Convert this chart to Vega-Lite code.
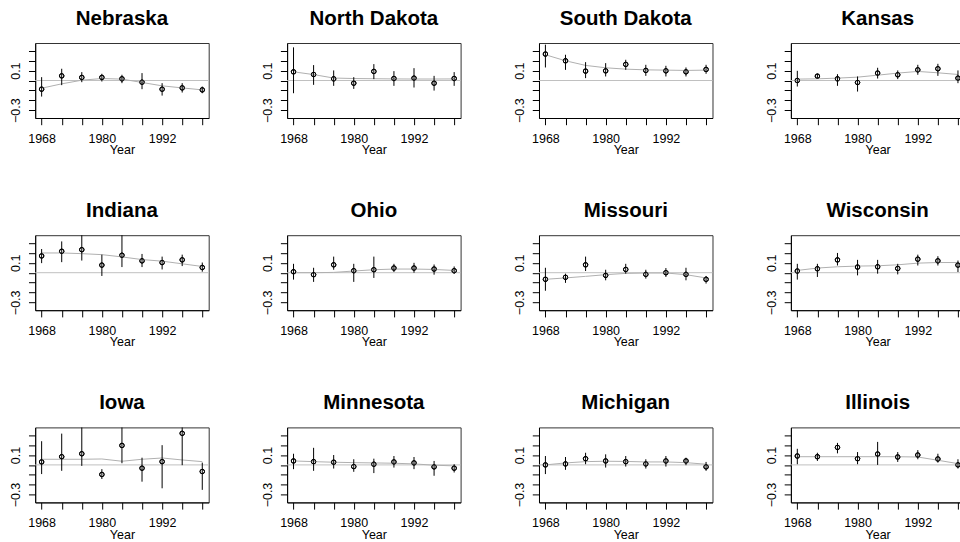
{
  "$schema": "https://vega.github.io/schema/vega-lite/v6.json",
  "padding": {"left": 8.2, "top": 8, "right": 0, "bottom": 0},
  "background": "white",
  "bounds": "flush",
  "spacing": {"row": 117.2, "column": 77.9},
  "config": {
    "font": "Liberation Sans",
    "view": {"stroke": "#333", "strokeWidth": 1},
    "header": {"labelFontSize": 20.5, "labelFontWeight": "bold", "labelFont": "Liberation Sans", "labelColor": "black", "labelPadding": -2.3, "labelBaseline": "alphabetic"},
    "axis": {"grid": false, "labelFont": "Liberation Sans", "titleFont": "Liberation Sans", "labelColor": "black", "titleColor": "black", "tickColor": "black", "domainColor": "black", "labelFontSize": 12.5, "titleFontSize": 12.5, "titleFontWeight": "normal", "labelOverlap": false, "labelFlush": false}
  },
  "data": {"values": [
    {"s":"Nebraska","y":1968,"e":-0.088,"lo":-0.163,"hi":0.034,"sm":-0.078},
    {"s":"Nebraska","y":1972,"e":0.047,"lo":-0.047,"hi":0.119,"sm":-0.034},
    {"s":"Nebraska","y":1976,"e":0.031,"lo":-0.017,"hi":0.085,"sm":0.003},
    {"s":"Nebraska","y":1980,"e":0.031,"lo":-0.01,"hi":0.068,"sm":0.02},
    {"s":"Nebraska","y":1984,"e":0.017,"lo":-0.027,"hi":0.058,"sm":0.014},
    {"s":"Nebraska","y":1988,"e":-0.017,"lo":-0.088,"hi":0.075,"sm":-0.02},
    {"s":"Nebraska","y":1992,"e":-0.088,"lo":-0.153,"hi":-0.027,"sm":-0.054},
    {"s":"Nebraska","y":1996,"e":-0.075,"lo":-0.122,"hi":-0.027,"sm":-0.075},
    {"s":"Nebraska","y":2000,"e":-0.095,"lo":-0.129,"hi":-0.061,"sm":-0.095},
    {"s":"North Dakota","y":1968,"e":0.088,"lo":-0.129,"hi":0.336,"sm":0.088},
    {"s":"North Dakota","y":1972,"e":0.061,"lo":-0.044,"hi":0.156,"sm":0.06},
    {"s":"North Dakota","y":1976,"e":0.017,"lo":-0.054,"hi":0.102,"sm":0.025},
    {"s":"North Dakota","y":1980,"e":-0.027,"lo":-0.085,"hi":0.034,"sm":0.02},
    {"s":"North Dakota","y":1984,"e":0.092,"lo":0.014,"hi":0.166,"sm":0.018},
    {"s":"North Dakota","y":1988,"e":0.02,"lo":-0.054,"hi":0.095,"sm":0.016},
    {"s":"North Dakota","y":1992,"e":0.024,"lo":-0.071,"hi":0.125,"sm":0.015},
    {"s":"North Dakota","y":1996,"e":-0.027,"lo":-0.102,"hi":0.047,"sm":0.015},
    {"s":"North Dakota","y":2000,"e":0.02,"lo":-0.054,"hi":0.085,"sm":0.016},
    {"s":"South Dakota","y":1968,"e":0.268,"lo":0.132,"hi":0.363,"sm":0.261},
    {"s":"South Dakota","y":1972,"e":0.2,"lo":0.108,"hi":0.261,"sm":0.2},
    {"s":"South Dakota","y":1976,"e":0.095,"lo":0.024,"hi":0.186,"sm":0.153},
    {"s":"South Dakota","y":1980,"e":0.098,"lo":0.041,"hi":0.176,"sm":0.129},
    {"s":"South Dakota","y":1984,"e":0.163,"lo":0.108,"hi":0.21,"sm":0.115},
    {"s":"South Dakota","y":1988,"e":0.102,"lo":0.047,"hi":0.159,"sm":0.108},
    {"s":"South Dakota","y":1992,"e":0.098,"lo":0.041,"hi":0.149,"sm":0.105},
    {"s":"South Dakota","y":1996,"e":0.088,"lo":0.041,"hi":0.132,"sm":0.102},
    {"s":"South Dakota","y":2000,"e":0.112,"lo":0.068,"hi":0.159,"sm":0.105},
    {"s":"Kansas","y":1968,"e":0.0,"lo":-0.061,"hi":0.098,"sm":0.014},
    {"s":"Kansas","y":1972,"e":0.044,"lo":0.024,"hi":0.068,"sm":0.017},
    {"s":"Kansas","y":1976,"e":0.017,"lo":-0.054,"hi":0.064,"sm":0.024},
    {"s":"Kansas","y":1980,"e":-0.02,"lo":-0.112,"hi":0.041,"sm":0.034},
    {"s":"Kansas","y":1984,"e":0.075,"lo":0.02,"hi":0.129,"sm":0.054},
    {"s":"Kansas","y":1988,"e":0.058,"lo":0.014,"hi":0.102,"sm":0.075},
    {"s":"Kansas","y":1992,"e":0.108,"lo":0.058,"hi":0.159,"sm":0.092},
    {"s":"Kansas","y":1996,"e":0.119,"lo":0.047,"hi":0.169,"sm":0.078},
    {"s":"Kansas","y":2000,"e":0.024,"lo":-0.027,"hi":0.102,"sm":0.061},
    {"s":"Indiana","y":1968,"e":0.17,"lo":0.097,"hi":0.24,"sm":0.2},
    {"s":"Indiana","y":1972,"e":0.217,"lo":0.107,"hi":0.317,"sm":0.2},
    {"s":"Indiana","y":1976,"e":0.233,"lo":0.123,"hi":0.39,"sm":0.193},
    {"s":"Indiana","y":1980,"e":0.077,"lo":-0.033,"hi":0.183,"sm":0.183},
    {"s":"Indiana","y":1984,"e":0.177,"lo":0.057,"hi":0.42,"sm":0.16},
    {"s":"Indiana","y":1988,"e":0.12,"lo":0.057,"hi":0.19,"sm":0.133},
    {"s":"Indiana","y":1992,"e":0.103,"lo":0.033,"hi":0.163,"sm":0.117},
    {"s":"Indiana","y":1996,"e":0.13,"lo":0.067,"hi":0.183,"sm":0.09},
    {"s":"Indiana","y":2000,"e":0.053,"lo":0.01,"hi":0.103,"sm":0.063},
    {"s":"Ohio","y":1968,"e":0.01,"lo":-0.07,"hi":0.09,"sm":0.0},
    {"s":"Ohio","y":1972,"e":-0.02,"lo":-0.093,"hi":0.05,"sm":0.0},
    {"s":"Ohio","y":1976,"e":0.08,"lo":0.03,"hi":0.163,"sm":0.003},
    {"s":"Ohio","y":1980,"e":0.02,"lo":-0.093,"hi":0.09,"sm":0.017},
    {"s":"Ohio","y":1984,"e":0.03,"lo":-0.053,"hi":0.163,"sm":0.03},
    {"s":"Ohio","y":1988,"e":0.047,"lo":0.007,"hi":0.09,"sm":0.037},
    {"s":"Ohio","y":1992,"e":0.047,"lo":0.0,"hi":0.1,"sm":0.037},
    {"s":"Ohio","y":1996,"e":0.037,"lo":-0.02,"hi":0.083,"sm":0.033},
    {"s":"Ohio","y":2000,"e":0.02,"lo":-0.01,"hi":0.063,"sm":0.023},
    {"s":"Missouri","y":1968,"e":-0.067,"lo":-0.183,"hi":0.05,"sm":-0.067},
    {"s":"Missouri","y":1972,"e":-0.047,"lo":-0.103,"hi":-0.01,"sm":-0.053},
    {"s":"Missouri","y":1976,"e":0.08,"lo":0.017,"hi":0.163,"sm":-0.037},
    {"s":"Missouri","y":1980,"e":-0.027,"lo":-0.077,"hi":0.03,"sm":-0.02},
    {"s":"Missouri","y":1984,"e":0.033,"lo":-0.01,"hi":0.09,"sm":-0.007},
    {"s":"Missouri","y":1988,"e":-0.017,"lo":-0.06,"hi":0.03,"sm":-0.003},
    {"s":"Missouri","y":1992,"e":0.0,"lo":-0.043,"hi":0.047,"sm":-0.003},
    {"s":"Missouri","y":1996,"e":-0.017,"lo":-0.077,"hi":0.05,"sm":-0.02},
    {"s":"Missouri","y":2000,"e":-0.067,"lo":-0.11,"hi":-0.033,"sm":-0.053},
    {"s":"Wisconsin","y":1968,"e":0.017,"lo":-0.07,"hi":0.09,"sm":0.023},
    {"s":"Wisconsin","y":1972,"e":0.04,"lo":-0.043,"hi":0.09,"sm":0.047},
    {"s":"Wisconsin","y":1976,"e":0.13,"lo":0.073,"hi":0.2,"sm":0.06},
    {"s":"Wisconsin","y":1980,"e":0.057,"lo":-0.027,"hi":0.13,"sm":0.067},
    {"s":"Wisconsin","y":1984,"e":0.06,"lo":-0.01,"hi":0.13,"sm":0.07},
    {"s":"Wisconsin","y":1988,"e":0.043,"lo":-0.017,"hi":0.09,"sm":0.08},
    {"s":"Wisconsin","y":1992,"e":0.137,"lo":0.073,"hi":0.183,"sm":0.097},
    {"s":"Wisconsin","y":1996,"e":0.12,"lo":0.073,"hi":0.167,"sm":0.103},
    {"s":"Wisconsin","y":2000,"e":0.077,"lo":0.007,"hi":0.123,"sm":0.103},
    {"s":"Iowa","y":1968,"e":0.03,"lo":-0.093,"hi":0.24,"sm":0.057},
    {"s":"Iowa","y":1972,"e":0.083,"lo":-0.06,"hi":0.317,"sm":0.057},
    {"s":"Iowa","y":1976,"e":0.113,"lo":-0.01,"hi":0.45,"sm":0.057},
    {"s":"Iowa","y":1980,"e":-0.097,"lo":-0.143,"hi":-0.043,"sm":0.06},
    {"s":"Iowa","y":1984,"e":0.197,"lo":0.017,"hi":0.42,"sm":0.037},
    {"s":"Iowa","y":1988,"e":-0.033,"lo":-0.17,"hi":0.073,"sm":0.057},
    {"s":"Iowa","y":1992,"e":0.033,"lo":-0.237,"hi":0.2,"sm":0.07},
    {"s":"Iowa","y":1996,"e":0.32,"lo":-0.003,"hi":0.5,"sm":0.05},
    {"s":"Iowa","y":2000,"e":-0.067,"lo":-0.253,"hi":0.023,"sm":0.033},
    {"s":"Minnesota","y":1968,"e":0.04,"lo":-0.043,"hi":0.113,"sm":0.04},
    {"s":"Minnesota","y":1972,"e":0.033,"lo":-0.06,"hi":0.173,"sm":0.033},
    {"s":"Minnesota","y":1976,"e":0.027,"lo":-0.037,"hi":0.1,"sm":0.027},
    {"s":"Minnesota","y":1980,"e":-0.017,"lo":-0.07,"hi":0.057,"sm":0.023},
    {"s":"Minnesota","y":1984,"e":0.007,"lo":-0.083,"hi":0.063,"sm":0.02},
    {"s":"Minnesota","y":1988,"e":0.03,"lo":-0.027,"hi":0.09,"sm":0.017},
    {"s":"Minnesota","y":1992,"e":0.02,"lo":-0.043,"hi":0.08,"sm":0.01},
    {"s":"Minnesota","y":1996,"e":-0.02,"lo":-0.11,"hi":0.04,"sm":-0.003},
    {"s":"Minnesota","y":2000,"e":-0.033,"lo":-0.077,"hi":0.007,"sm":-0.01},
    {"s":"Michigan","y":1968,"e":0.0,"lo":-0.093,"hi":0.09,"sm":0.0},
    {"s":"Michigan","y":1972,"e":0.01,"lo":-0.05,"hi":0.08,"sm":0.02},
    {"s":"Michigan","y":1976,"e":0.063,"lo":0.007,"hi":0.123,"sm":0.033},
    {"s":"Michigan","y":1980,"e":0.04,"lo":-0.027,"hi":0.107,"sm":0.037},
    {"s":"Michigan","y":1984,"e":0.033,"lo":-0.017,"hi":0.09,"sm":0.035},
    {"s":"Michigan","y":1988,"e":0.01,"lo":-0.037,"hi":0.057,"sm":0.03},
    {"s":"Michigan","y":1992,"e":0.04,"lo":-0.017,"hi":0.09,"sm":0.03},
    {"s":"Michigan","y":1996,"e":0.04,"lo":-0.003,"hi":0.073,"sm":0.023},
    {"s":"Michigan","y":2000,"e":-0.02,"lo":-0.06,"hi":0.03,"sm":0.007},
    {"s":"Illinois","y":1968,"e":0.09,"lo":0.007,"hi":0.163,"sm":0.083},
    {"s":"Illinois","y":1972,"e":0.083,"lo":0.04,"hi":0.123,"sm":0.083},
    {"s":"Illinois","y":1976,"e":0.177,"lo":0.117,"hi":0.223,"sm":0.083},
    {"s":"Illinois","y":1980,"e":0.063,"lo":0.007,"hi":0.13,"sm":0.083},
    {"s":"Illinois","y":1984,"e":0.11,"lo":0.0,"hi":0.233,"sm":0.083},
    {"s":"Illinois","y":1988,"e":0.08,"lo":0.03,"hi":0.13,"sm":0.083},
    {"s":"Illinois","y":1992,"e":0.1,"lo":0.057,"hi":0.15,"sm":0.08},
    {"s":"Illinois","y":1996,"e":0.06,"lo":0.023,"hi":0.113,"sm":0.047},
    {"s":"Illinois","y":2000,"e":0.0,"lo":-0.037,"hi":0.057,"sm":0.013}
  ]},
  "facet": {"field": "s", "type": "nominal", "title": null,
    "sort": ["Nebraska","North Dakota","South Dakota","Kansas","Indiana","Ohio","Missouri","Wisconsin","Iowa","Minnesota","Michigan","Illinois"]},
  "columns": 4,
  "resolve": {"axis": {"x": "independent", "y": "independent"}},
  "spec": {
    "width": 173.5,
    "height": 75,
    "encoding": {
      "x": {"field": "y", "type": "quantitative",
        "scale": {"domain": [1966.72, 2001.28], "nice": false, "zero": false},
        "axis": {"title": "Year", "values": [1968,1972,1976,1980,1984,1988,1992,1996,2000], "tickCount": 20, "format": "d",
          "labelExpr": "datum.value == 1968 || datum.value == 1980 || datum.value == 1992 ? datum.label : ''",
          "tickSize": 6.7, "labelPadding": 7.5, "titlePadding": -1}}
    },
    "layer": [
      {"mark": {"type": "point", "shape": "circle", "filled": false, "color": "black", "size": 20, "strokeWidth": 1, "opacity": 1, "clip": true},
       "encoding": {"y": {"field": "e", "type": "quantitative", "scale": {"domain": [-0.38, 0.38], "nice": false, "zero": false},
         "axis": {"title": null, "values": [-0.3, -0.2, -0.1, 0, 0.1, 0.2, 0.3], "tickCount": 20, "format": ".1f",
           "labelExpr": "abs(datum.value - 0.1) < 0.001 || abs(datum.value + 0.3) < 0.001 ? datum.label : ''",
           "labelAngle": -90, "labelAlign": "center", "labelBaseline": "bottom", "labelPadding": 6, "tickSize": 6.7}}}},
      {"transform": [{"filter": "datum.y == 1968"}],
       "mark": {"type": "rule", "color": "#c0c0c0", "strokeWidth": 1},
       "encoding": {"x": null, "y": {"datum": 0, "type": "quantitative"}}},
      {"mark": {"type": "line", "color": "#b0b0b0", "strokeWidth": 1, "clip": true},
       "encoding": {"y": {"field": "sm", "type": "quantitative"}}},
      {"mark": {"type": "rule", "color": "black", "strokeWidth": 1, "clip": true},
       "encoding": {"y": {"field": "lo", "type": "quantitative"}, "y2": {"field": "hi"}}},
      {"mark": {"type": "point", "shape": "circle", "filled": false, "color": "black", "size": 20, "strokeWidth": 1, "opacity": 1, "clip": true},
       "encoding": {"y": {"field": "e", "type": "quantitative"}}}
    ]
  }
}
